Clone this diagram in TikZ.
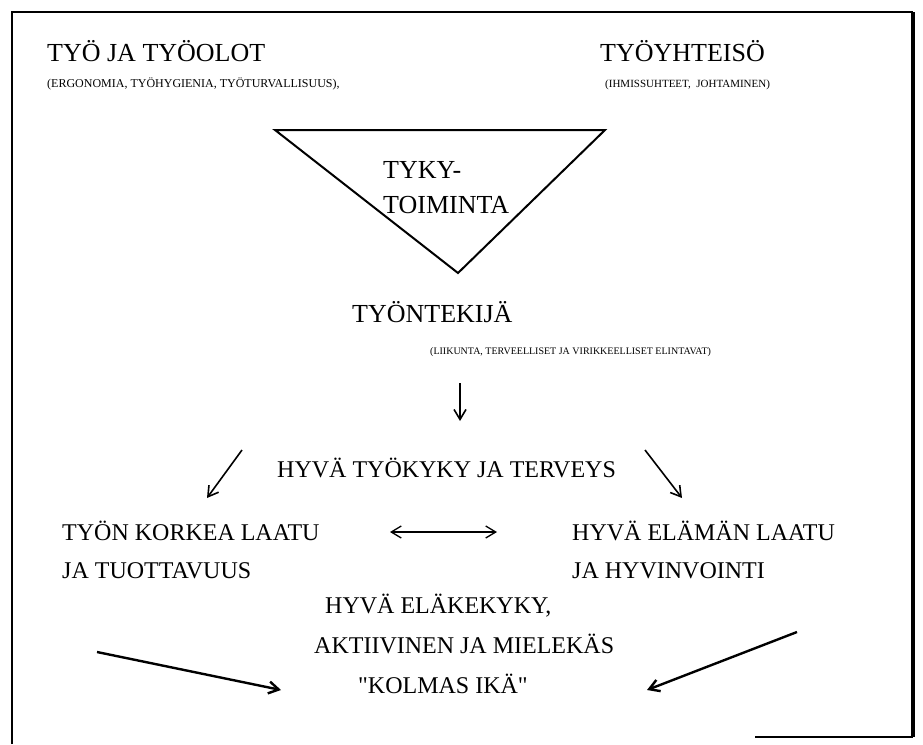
\documentclass[tikz,border=0pt]{standalone}
\usepackage{fontspec}
\setmainfont{Liberation Serif}
\usetikzlibrary{arrows.meta}
\begin{document}
\begin{tikzpicture}[x=1pt, y=-1pt,
        otsikko/.style={anchor=base west, inner sep=0pt, font=\fontsize{26}{30}\selectfont},
        pieni/.style={anchor=base west, inner sep=0pt, font=\fontsize{12}{14}\selectfont},
        teksti/.style={anchor=base west, inner sep=0pt, font=\fontsize{24}{28}\selectfont},
        nuoli/.style={-{Straight Barb[length=10pt, width=12pt]}, line width=1.6pt}]
        \useasboundingbox (0,0) rectangle (923,744);
        % kehys
        \draw[line width=1.8pt] (12,744) -- (12,12) -- (913,12);
        \draw[line width=3.5pt] (913,12) -- (913,737);
        \draw[line width=1.8pt] (755,737) -- (913,737);
        % ylaosa
        \node[otsikko] (tyo) at (47,61) {TYÖ JA TYÖOLOT};
        \node[pieni] (tyoselite) at (47,87) {(ERGONOMIA, TYÖHYGIENIA, TYÖTURVALLISUUS),};
        \node[otsikko] (yhteiso) at (600,61) {TYÖYHTEISÖ};
        \node[pieni, font=\fontsize{11}{13}\selectfont] (yhteisoselite) at (605,87) {(IHMISSUHTEET,\ \ JOHTAMINEN)};
        % kolmio
        \draw[line width=2pt, line join=miter] (275,130) -- (605,130) -- (458,273) -- cycle;
        \node[otsikko] (tyky) at (383,178) {TYKY-};
        \node[otsikko] (toiminta) at (383,213) {TOIMINTA};
        \node[otsikko] (tyontekija) at (352,322) {TYÖNTEKIJÄ};
        \node[pieni, font=\fontsize{10}{12}\selectfont] (elintavat) at (430,354) {(LIIKUNTA, TERVEELLISET JA VIRIKKEELLISET ELINTAVAT)};
        % alaosa
        \node[teksti] (kyky) at (277,477) {HYVÄ TYÖKYKY JA TERVEYS};
        \node[teksti] (laatu) at (62,540) {TYÖN KORKEA LAATU};
        \node[teksti] (tuottavuus) at (62,578) {JA TUOTTAVUUS};
        \node[teksti] (elama) at (572,540) {HYVÄ ELÄMÄN LAATU};
        \node[teksti] (hyvinvointi) at (572,578) {JA HYVINVOINTI};
        \node[teksti] (elake) at (325,613) {HYVÄ ELÄKEKYKY,};
        \node[teksti] (aktiivinen) at (314,653) {AKTIIVINEN JA MIELEKÄS};
        \node[teksti] (kolmas) at (358,693) {\textquotedbl KOLMAS IKÄ\textquotedbl};
        % nuolet
        \coordinate (a1) at (460,383);  \coordinate (a2) at (460,421);
        \coordinate (b1) at (242,450);  \coordinate (b2) at (207,498);
        \coordinate (c1) at (645,450);  \coordinate (c2) at (682,498);
        \coordinate (d1) at (390,532);  \coordinate (d2) at (497,532);
        \coordinate (e1) at (97,652);   \coordinate (e2) at (281,690);
        \coordinate (f1) at (797,632);  \coordinate (f2) at (647,690);
        \draw[nuoli] (a1) -- (a2);
        \draw[nuoli] (b1) -- (b2);
        \draw[nuoli] (c1) -- (c2);
        \draw[nuoli, {Straight Barb[length=10pt, width=12pt]}-{Straight Barb[length=10pt, width=12pt]}, line width=1.3pt] (d1) -- (d2);
        \draw[nuoli, line width=2.4pt] (e1) -- (e2);
        \draw[nuoli, line width=2.4pt] (f1) -- (f2);
    \end{tikzpicture}
\end{document}
